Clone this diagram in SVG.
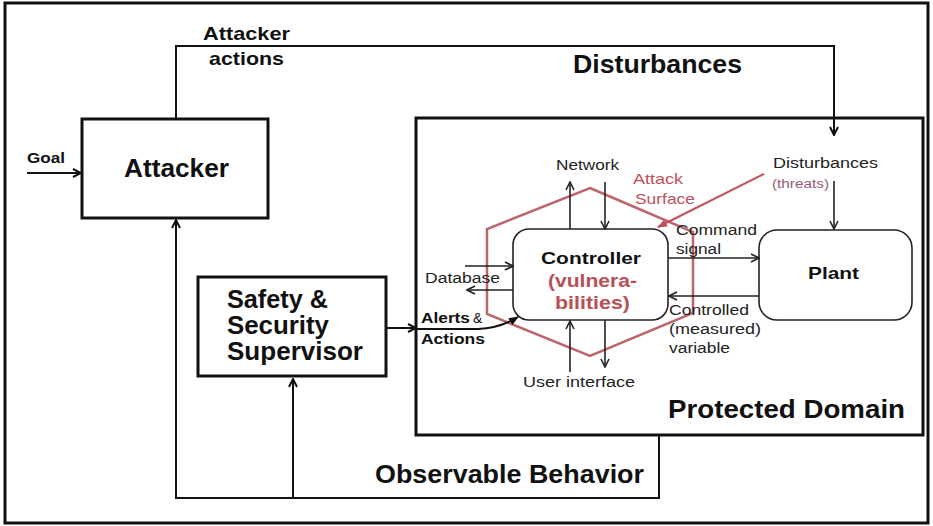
<svg xmlns="http://www.w3.org/2000/svg" width="933" height="526" viewBox="0 0 933 526">
<defs>
<marker id="arr" viewBox="0 0 10 10" refX="9" refY="5" markerWidth="10" markerHeight="10" markerUnits="userSpaceOnUse" orient="auto">
<polyline points="1,1 9,5 1,9" fill="none" stroke="#111" stroke-width="2"/>
</marker>
<marker id="arrs" viewBox="0 0 10 10" refX="9" refY="5" markerWidth="10" markerHeight="10" markerUnits="userSpaceOnUse" orient="auto">
<polyline points="1,1 9,5 1,9" fill="none" stroke="#222" stroke-width="1.6"/>
</marker>
<marker id="arrf" viewBox="0 0 10 10" refX="9" refY="5" markerWidth="10" markerHeight="10" markerUnits="userSpaceOnUse" orient="auto">
<path d="M0,1 L10,5 L0,9 Z" fill="#111"/>
</marker>
<marker id="arrr" viewBox="0 0 10 10" refX="9" refY="5" markerWidth="10" markerHeight="10" markerUnits="userSpaceOnUse" orient="auto">
<path d="M0,1 L10,5 L0,9 Z" fill="#c0505a"/>
</marker>
</defs>
<style>
text{font-family:"Liberation Sans",Arial,sans-serif;fill:#111}
.big{font-size:25px;font-weight:bold}
.mid{font-size:19px;font-weight:bold}
.sm{font-size:14px;fill:#222}
.box{fill:#fff;stroke:#111;stroke-width:3}
.ibox{fill:#fff;stroke:#222;stroke-width:1.6}
.c{fill:none;stroke:#111;stroke-width:2}
.ci{fill:none;stroke:#222;stroke-width:1.6}
.red{fill:#b85058}
</style>
<rect x="5" y="3" width="923" height="520" fill="#fff" stroke="#111" stroke-width="3"/>

<g id="attacker">
<rect class="box" x="82" y="119" width="186" height="99"/>
<text class="big" x="124" y="177" textLength="105" lengthAdjust="spacingAndGlyphs">Attacker</text>
</g>
<text x="27" y="163" style="font-size:15px;font-weight:bold" textLength="38" lengthAdjust="spacingAndGlyphs">Goal</text>
<text class="mid" x="203" y="40" textLength="87" lengthAdjust="spacingAndGlyphs">Attacker</text>
<text class="mid" x="209" y="65" textLength="75" lengthAdjust="spacingAndGlyphs">actions</text>
<text class="big" x="573" y="73" textLength="169" lengthAdjust="spacingAndGlyphs">Disturbances</text>
<text class="big" x="375" y="483" textLength="269" lengthAdjust="spacingAndGlyphs">Observable Behavior</text>

<g id="supervisor">
<rect class="box" x="198" y="277" width="188" height="99"/>
<text class="big" x="227" y="308" textLength="101" lengthAdjust="spacingAndGlyphs">Safety &amp;</text>
<text class="big" x="227" y="334" textLength="102" lengthAdjust="spacingAndGlyphs">Security</text>
<text class="big" x="227" y="360" textLength="136" lengthAdjust="spacingAndGlyphs">Supervisor</text>
</g>

<g id="protected-domain">
<rect class="box" x="416" y="118" width="507" height="317"/>
<text class="big" x="668" y="418" textLength="237" lengthAdjust="spacingAndGlyphs">Protected Domain</text>
</g>

<g id="controller">
<rect class="ibox" x="513" y="229" width="155" height="91" rx="16"/>
<text x="541" y="264" style="font-size:17px;font-weight:bold" textLength="100" lengthAdjust="spacingAndGlyphs">Controller</text>
<text class="red" x="548" y="287" style="font-size:18px;font-weight:bold" textLength="89" lengthAdjust="spacingAndGlyphs">(vulnera-</text>
<text class="red" x="555" y="309" style="font-size:18px;font-weight:bold" textLength="75" lengthAdjust="spacingAndGlyphs">bilities)</text>
</g>

<g id="plant">
<rect class="ibox" x="759" y="230" width="153" height="90" rx="18"/>
<text x="808" y="279" style="font-size:17px;font-weight:bold" textLength="51" lengthAdjust="spacingAndGlyphs">Plant</text>
</g>

<g id="attack-surface">
<polygon points="590,188 693,232 693,313 590,356 487,314 487,229" fill="none" stroke="#b04a52" stroke-width="2.5" stroke-opacity="0.85"/>
<line x1="764" y1="174" x2="658" y2="227" stroke="#c0505a" stroke-width="2" marker-end="url(#arrr)"/>
<text x="633" y="184" style="font-size:15px;fill:#c0505a" textLength="50" lengthAdjust="spacingAndGlyphs">Attack</text>
<text x="635" y="204" style="font-size:15px;fill:#c0505a" textLength="60" lengthAdjust="spacingAndGlyphs">Surface</text>
</g>

<g id="connectors">
<polyline class="c" points="176,119 176,46 834,46 834,135" marker-end="url(#arr)"/>
<line class="c" x1="27" y1="173" x2="81" y2="173" marker-end="url(#arr)"/>
<polyline class="c" points="659,436 659,498 176,498 176,220" marker-end="url(#arr)"/>
<line class="c" x1="293" y1="498" x2="293" y2="379" marker-end="url(#arr)"/>
<line class="c" x1="387" y1="328" x2="416" y2="328" marker-end="url(#arr)"/>
<line class="ci" x1="570" y1="229" x2="570" y2="182" marker-end="url(#arrs)"/>
<line class="ci" x1="605" y1="182" x2="605" y2="229" marker-end="url(#arrs)"/>
<line class="ci" x1="570" y1="372" x2="570" y2="321" marker-end="url(#arrs)"/>
<line class="ci" x1="605" y1="320" x2="605" y2="367" marker-end="url(#arrs)"/>
<line class="ci" x1="465" y1="266" x2="513" y2="266" marker-end="url(#arrs)"/>
<line class="ci" x1="513" y1="290" x2="467" y2="290" marker-end="url(#arrs)"/>
<line class="ci" x1="668" y1="258" x2="759" y2="258" marker-end="url(#arrs)"/>
<line class="ci" x1="759" y1="296" x2="669" y2="296" marker-end="url(#arrs)"/>
<line class="ci" x1="834" y1="181" x2="834" y2="229" marker-end="url(#arrs)"/>
<path d="M416,329 L478,329 Q500,328 518,317" fill="none" stroke="#111" stroke-width="2" marker-end="url(#arrf)"/>
</g>

<text class="sm" x="556" y="170" textLength="63" lengthAdjust="spacingAndGlyphs">Network</text>
<text class="sm" x="523" y="387" textLength="112" lengthAdjust="spacingAndGlyphs">User interface</text>
<text class="sm" x="425" y="283" textLength="75" lengthAdjust="spacingAndGlyphs">Database</text>
<text class="sm" x="773" y="168" textLength="105" lengthAdjust="spacingAndGlyphs">Disturbances</text>
<text x="772" y="188" style="font-size:13px;fill:#9a5a7a" textLength="57" lengthAdjust="spacingAndGlyphs">(threats)</text>
<text class="sm" x="676" y="235" textLength="81" lengthAdjust="spacingAndGlyphs">Command</text>
<text class="sm" x="676" y="254" textLength="45" lengthAdjust="spacingAndGlyphs">signal</text>
<text class="sm" x="669" y="315" textLength="80" lengthAdjust="spacingAndGlyphs">Controlled</text>
<text class="sm" x="669" y="334" textLength="92" lengthAdjust="spacingAndGlyphs">(measured)</text>
<text class="sm" x="669" y="353" textLength="61" lengthAdjust="spacingAndGlyphs">variable</text>
<text x="421" y="323" style="font-size:15px;font-weight:bold" textLength="49" lengthAdjust="spacingAndGlyphs">Alerts</text>
<text x="473" y="323" style="font-size:14px">&amp;</text>
<text x="421" y="344" style="font-size:15px;font-weight:bold" textLength="64" lengthAdjust="spacingAndGlyphs">Actions</text>
</svg>
